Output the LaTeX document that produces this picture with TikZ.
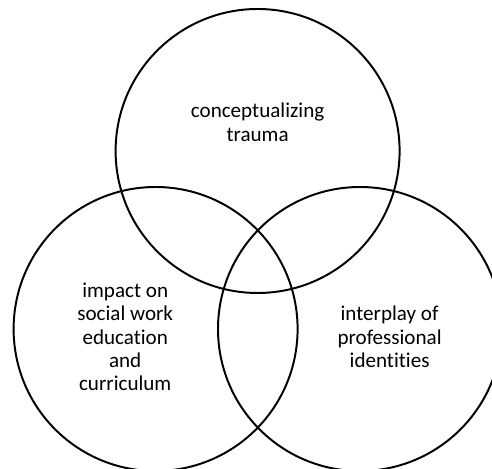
\documentclass[tikz,border=0pt]{standalone}
\usepackage{fontspec}
\setmainfont[Ligatures=CommonOff]{Carlito}
\usetikzlibrary{positioning}

\tikzset{ring/.style={line width=1.4pt}, lbl/.style={align=center, font=\fontsize{15}{16.6}\selectfont}}

\begin{document}
\begin{tikzpicture}
            \useasboundingbox (0,0) rectangle (12.3,11.725);

            \draw[ring] (6.44,7.95) circle (3.55);
            \node[lbl] (trauma) at (6.44,8.67) {conceptualizing\\trauma};

            \draw[ring] (3.89,3.5) circle (3.55);
            \node[lbl] (impact) at (3.13,3.3) {impact on\\social work\\education\\and\\curriculum};

            \draw[ring] (9.0,3.5) circle (3.55);
            \node[lbl] (identities) at (9.74,3.3) {interplay of\\professional\\identities};
        \end{tikzpicture}
\end{document}
